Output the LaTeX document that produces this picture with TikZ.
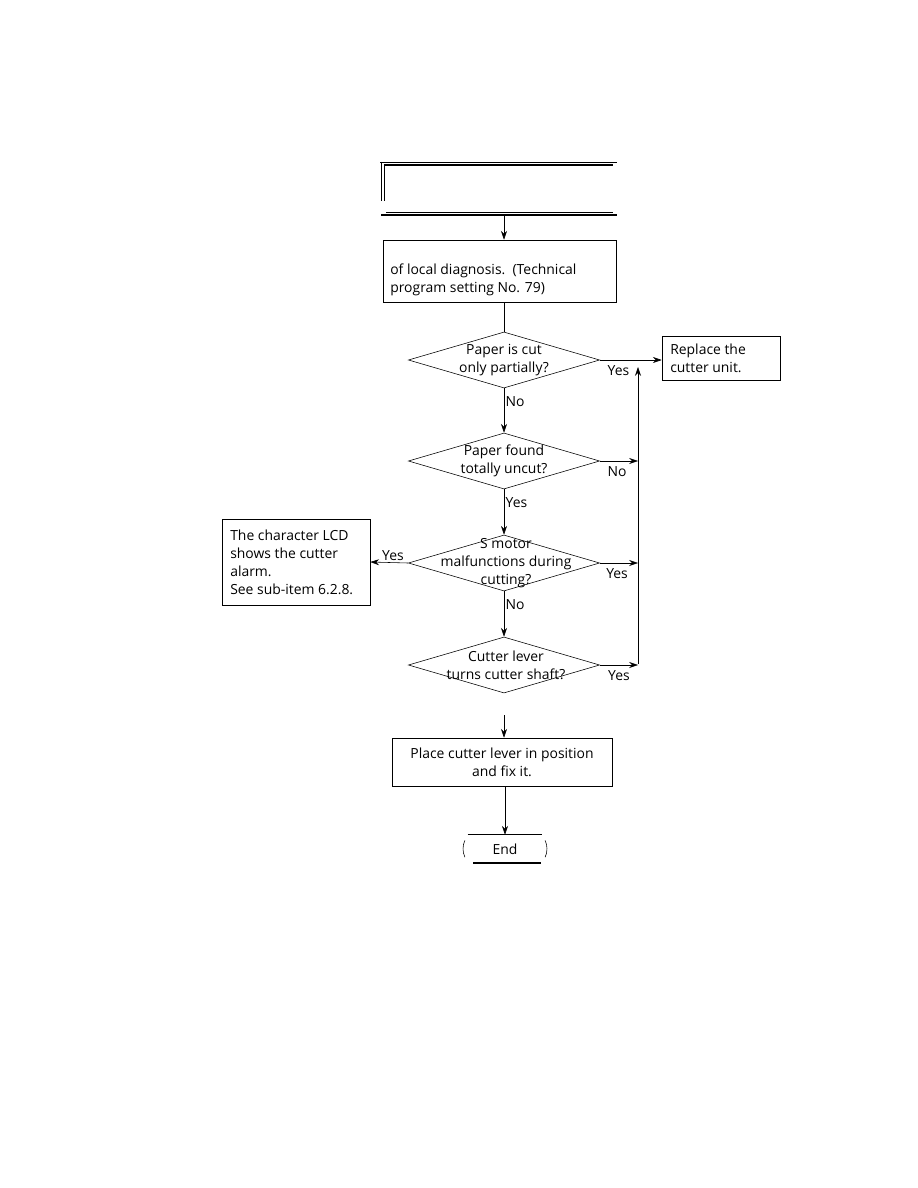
\documentclass[tikz,border=0pt]{standalone}
\usepackage{fontspec}
\setmainfont{Open Sans}
\usetikzlibrary{arrows.meta,positioning,shapes.geometric}

\begin{document}
\begin{tikzpicture}[x=0.025cm,y=-0.025cm,>={Stealth[length=2.2mm,width=1.5mm]},
 font=\fontsize{9.9}{12.8}\selectfont,
 box/.style={draw,inner sep=0pt,align=left},
 dec/.style={draw,diamond,inner sep=0pt,minimum width=4.78cm,minimum height=1.4cm},
 dtext/.style={align=center,inner sep=0pt},
 lab/.style={inner sep=1pt},
 labd/.style={lab,below,yshift=-2.5pt}]
\useasboundingbox (0,0) rectangle (918,1188);
% heading frame (no text)
\draw (380,162.5) -- (617,162.5);
\draw[line width=1pt] (384,165) -- (613,165);
\draw (381,162) -- (381,201);
\draw (384,165) -- (384,201);
\draw (386,212) -- (613,212);
\draw[line width=0.8pt] (381,215) -- (617,215);
\coordinate (hd) at (504,215);
% local diagnosis
\node[box,minimum width=5.83cm,minimum height=1.55cm] (diag) at (499.5,271) {};
\node[anchor=west,align=left,inner sep=0pt] (diagt) at (390,280) {of local diagnosis.\ \ (Technical\\program setting No. 79)};
\draw[->] (hd) -- (diag.north -| hd);
% decisions
\node[dec] (q1) at (504,360) {};
\node[dtext] (q1t) at (504,360) {Paper is cut\\only partially?};
\node[dec] (q2) at (504,461) {};
\node[dtext] (q2t) at (504,461) {Paper found\\totally uncut?};
\node[dec] (q3) at (504,563) {};
\node[dtext] (q3t) at (506,563) {S motor\\malfunctions during\\cutting?};
\node[dec] (q4) at (504,665) {};
\node[dtext] (q4t) at (506,665) {Cutter lever\\turns cutter shaft?};
% result boxes
\node[box,minimum width=2.95cm,minimum height=1.1cm] (repl) at (721,358) {};
\node[anchor=west,align=left,inner sep=0pt] (replt) at (670,358) {Replace the\\cutter unit.};
\node[box,minimum width=3.7cm,minimum height=2.15cm] (lcd) at (296,562) {};
\node[anchor=west,align=left,inner sep=0pt] (lcdt) at (230,562) {The character LCD\\shows the cutter\\alarm.\\See sub-item 6.2.8.};
\node[box,minimum width=5.5cm,minimum height=1.2cm] (fix) at (502,762) {};
\node[align=center,inner sep=0pt] (fixt) at (502,762) {Place cutter lever in position\\and fix it.};
% end terminal
\node[minimum width=1.85cm,minimum height=0.7cm,inner sep=0pt] (fin) at (505,849) {End};
\draw (fin.north west) -- (fin.north east);
\draw[line width=1.2pt] ([xshift=4pt]fin.south west) -- ([xshift=-1pt]fin.south east);
\draw ([xshift=-2pt,yshift=-4pt]fin.north west) arc[start angle=155,end angle=205,radius=0.5cm];
\draw ([xshift=2pt,yshift=-4pt]fin.north east) arc[start angle=25,end angle=-25,radius=0.5cm];
% return line
\coordinate (rt) at (638,664);
\coordinate (rb) at (638,367);
\draw[->] (rt) -- (rb);
% connectors
\draw (diag.south -| hd) -- (q1.north);
\draw[->] (q1.south) -- node[lab,right,pos=0.3] {No} (q2.north);
\draw[->] (q2.south) -- node[lab,right,pos=0.3] {Yes} (q3.north);
\draw[->] (q3.south) -- node[lab,right,pos=0.3] {No} (q4.north);
\draw[->] (q1.east) -- node[labd,pos=0.3] {Yes} (repl.west |- q1.east);
\draw[->] (q2.east) -- node[labd,pos=0.45] {No} (q2.east -| rt);
\draw[->] (q3.east) -- node[labd,pos=0.45] {Yes} (q3.east -| rt);
\draw[->] (q4.east) -- node[labd,pos=0.5] {Yes} (q4.east -| rt);
\draw[->] (q3.west) -- node[lab,above,pos=0.4] {Yes} (lcd.east);
\coordinate (gap) at (504,715);
\draw[->] (gap) -- (fix.north -| gap);
\draw[->] (fix.south -| fin) -- (fin.north);
\end{tikzpicture}
\end{document}
